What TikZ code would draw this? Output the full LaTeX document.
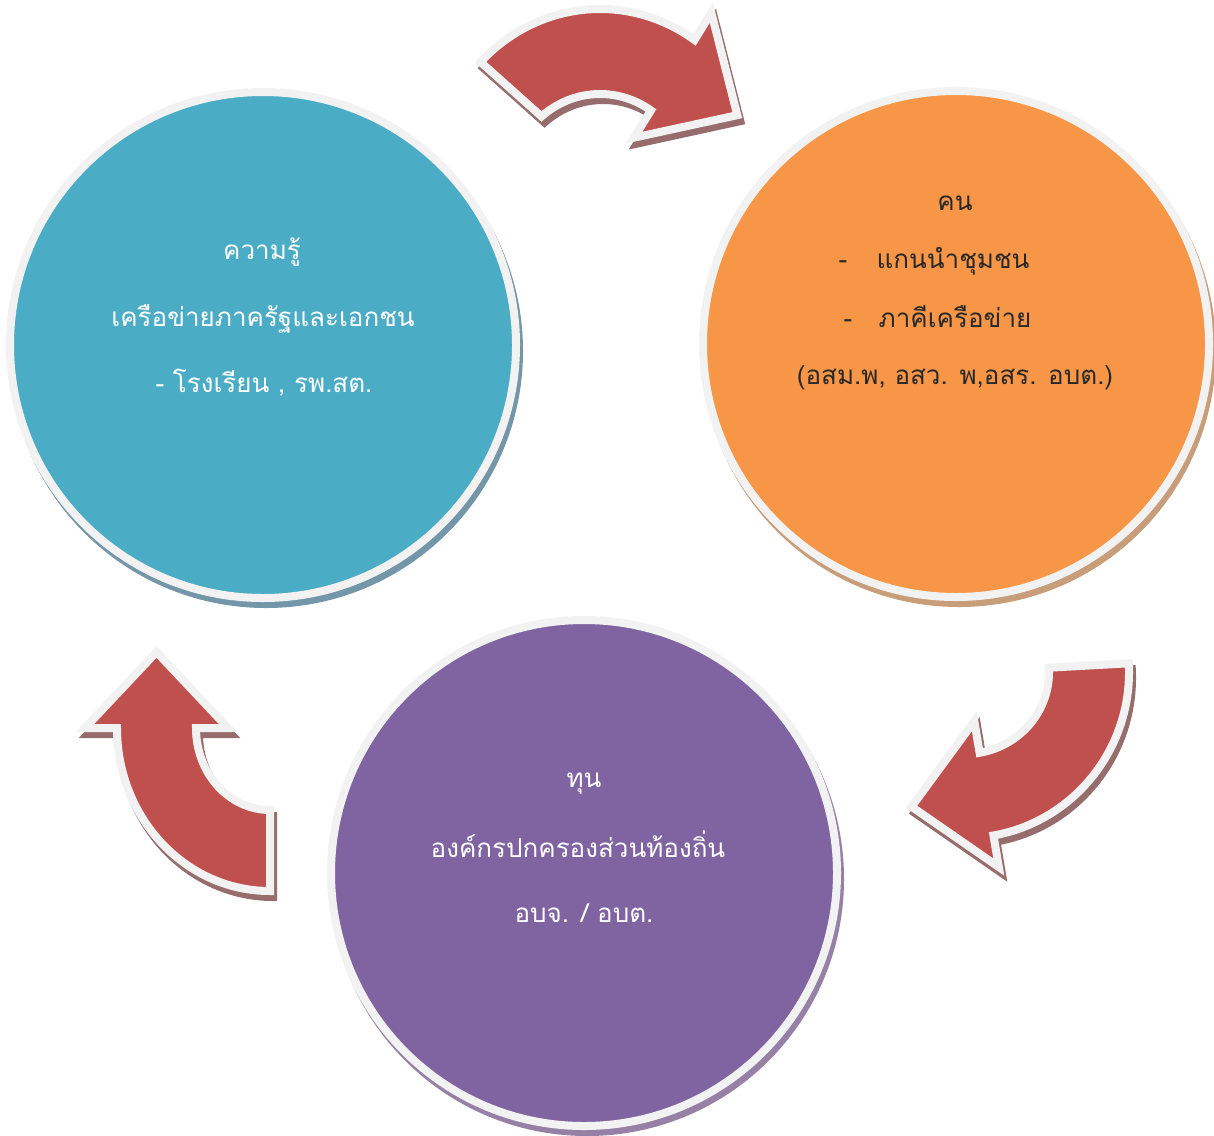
\documentclass[tikz,border=0pt]{standalone}
\usepackage{fontspec}
\newfontfamily\thaifont[Script=Thai]{Loma}
\usepackage{tikz}
\usetikzlibrary{calc}
\definecolor{cyteal}{RGB}{75,172,198}
\definecolor{cyorange}{RGB}{247,150,70}
\definecolor{cypurple}{RGB}{128,100,162}
\definecolor{cyred}{RGB}{192,80,77}
\definecolor{cyrim}{RGB}{242,242,242}
\definecolor{cyink}{RGB}{40,40,40}
\definecolor{cyshteal}{RGB}{115,150,168}
\definecolor{cyshorange}{RGB}{200,158,122}
\definecolor{cyshpurple}{RGB}{150,128,165}
\definecolor{cyshred}{RGB}{150,108,108}
\tikzset{
  disc/.style={circle, draw=cyrim, line width=4pt, minimum size=253pt, inner sep=0pt},
  discsh/.style={circle, minimum size=257pt, inner sep=0pt},
  turnarr/.style={fill=cyred, draw=cyrim, line width=4pt, line join=miter},
  turnsh/.style={fill=cyshred, draw=cyshred, line width=4pt, line join=miter},
  txt/.style={font=\thaifont\fontsize{13}{16}\selectfont, inner sep=0pt, anchor=base},
  txtw/.style={txt, text=white},
  txtd/.style={txt, text=cyink}
}
% #1 style, #2/#3 outer/inner start angle, #4 end angle,
% #5 #6 inner x/y radius, #7 #8 outer x/y radius
\newcommand{\turnarrow}[8]{%
  \coordinate (ho) at (#4:#7 and #8);
  \coordinate (hi) at (#4:#5 and #6);
  \coordinate (hm) at ($(ho)!0.5!(hi)$);
  \path[#1] (#2:#7 and #8) arc[start angle=#2, end angle=#4, x radius=#7, y radius=#8]
    -- ($(ho)!-16pt!(hi)$) -- ($(hm)!38pt!-90:(ho)$) -- ($(hi)!-16pt!(ho)$)
    -- (hi) arc[start angle=#4, end angle=#3, x radius=#5, y radius=#6] -- cycle;}

\begin{document}
\begin{tikzpicture}[x=0.5pt,y=-0.5pt]
  \useasboundingbox (0,0) rectangle (1214,1135);

  \node[discsh, fill=cyshteal] (knowsh) at (266,351) {};
  \node[disc, fill=cyteal] (know) at (263,345) {};
  \node[discsh, fill=cyshorange] (pplsh) at (959,350) {};
  \node[disc, fill=cyorange] (ppl) at (956,344) {};
  \node[discsh, fill=cyshpurple] (capsh) at (587,879) {};
  \node[disc, fill=cypurple] (cap) at (584,873) {};

  \begin{scope}[shift={(603,196)}]
    \turnarrow{turnsh}{-135}{-130}{-56}{91}{96}{169}{181}
  \end{scope}
  \begin{scope}[shift={(600,190)}]
    \turnarrow{turnarr}{-135}{-130}{-56}{91}{96}{169}{181}
  \end{scope}
  \begin{scope}[shift={(968,678)}]
    \turnarrow{turnsh}{-3}{-3}{80}{84}{82}{164}{166}
  \end{scope}
  \begin{scope}[shift={(965,672)}]
    \turnarrow{turnarr}{-3}{-3}{80}{84}{82}{164}{166}
  \end{scope}
  \begin{scope}[shift={(273,734)}]
    \turnarrow{turnsh}{90}{90}{180}{74}{82}{153}{163}
  \end{scope}
  \begin{scope}[shift={(270,728)}]
    \turnarrow{turnarr}{90}{90}{180}{74}{82}{153}{163}
  \end{scope}

  \node[txtw] (knowa) at (262,259) {ความรู้};
  \node[txtw] (knowb) at (263,326) {เครือข่ายภาครัฐและเอกชน};
  \node[txtw] (knowc) at (264,392) {- โรงเรียน , รพ.สต.};

  \node[txtd] (ppla) at (955,210) {คน};
  \node[txtd] (dasha) at (843,268) {-};
  \node[txtd] (pplb) at (953,268) {แกนนำชุมชน};
  \node[txtd] (dashb) at (848,327) {-};
  \node[txtd] (pplc) at (955,327) {ภาคีเครือข่าย};
  \node[txtd] (ppld) at (955,384) {(อสม.พ, อสว. พ,อสร. อบต.)};

  \node[txtw] (capa) at (584,787) {ทุน};
  \node[txtw] (capb) at (578,857) {องค์กรปกครองส่วนท้องถิ่น};
  \node[txtw] (capc) at (584,922) {อบจ. / อบต.};
\end{tikzpicture}
\end{document}
